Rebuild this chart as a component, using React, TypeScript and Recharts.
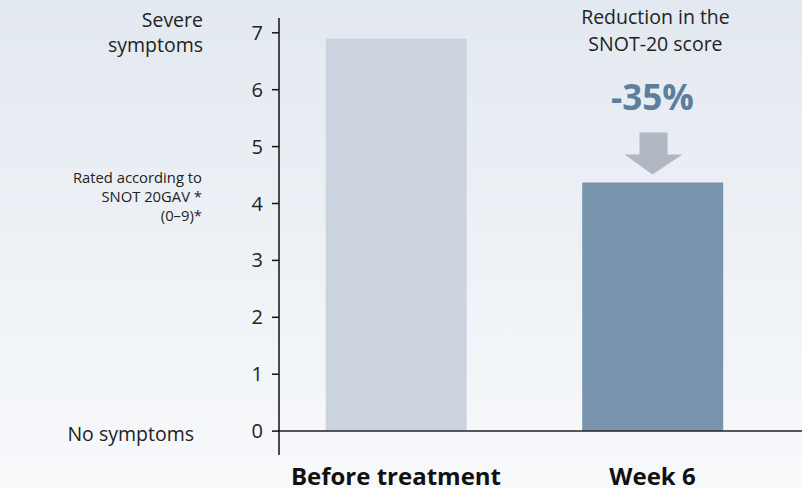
import { BarChart, Bar, XAxis, YAxis, ReferenceLine, ReferenceDot, Cell } from 'recharts';

const categories = ['Before treatment', 'Week 6'];
const scores = [6.9, 4.37];
const yTicks = [0, 1, 2, 3, 4, 5, 6, 7];
const reductionLabel = '-35%';

const BAR_COLORS = ['#CBD3DF', '#7894AD'];
const FONT = '"Open Sans", "Noto Sans", sans-serif';

const data = categories.map((name, i) => ({ pos: i, name, score: scores[i] }));

function CategoryTick(props: any) {
  const { x, y, payload } = props;
  return (
    <text x={x} y={y + 22} textAnchor="middle" fontFamily={FONT} fontSize={24} fontWeight={700} fill="#111">
      {categories[payload.value]}
    </text>
  );
}

// arrow and reduction figure sitting above the week 6 bar
function ReductionMarker(props: any) {
  const { cx, cy } = props;
  const tip = cy - 8;
  return (
    <g>
      <text x={cx + 3} y={tip - 150} textAnchor="middle" fontFamily={FONT} fontSize={19.5} fill="#222">
        Reduction in the
      </text>
      <text x={cx + 3} y={tip - 123} textAnchor="middle" fontFamily={FONT} fontSize={19.5} fill="#222">
        SNOT-20 score
      </text>
      <text x={cx} y={tip - 64} textAnchor="middle" fontFamily={FONT} fontSize={35} fontWeight={700} fill="#5B7F9C">
        {reductionLabel}
      </text>
      <polygon
        points={`${cx - 13},${tip - 42} ${cx + 15},${tip - 42} ${cx + 15},${tip - 20} ${cx + 30},${tip - 20} ${cx},${tip} ${cx - 28},${tip - 20} ${cx - 13},${tip - 20}`}
        fill="#B1B8C3"
      />
    </g>
  );
}

export default function App() {
  return (
    <div
      style={{
        position: 'absolute',
        left: 0,
        top: 0,
        width: 802,
        height: 488,
        background: 'linear-gradient(180deg, #E3E9F0 0%, #EDF1F6 50%, #F8F9FB 100%)',
        fontFamily: FONT,
      }}
    >
      <BarChart width={802} height={488} data={data} margin={{ top: 18, right: 0, left: 0, bottom: 0 }}>
        <XAxis
          type="number"
          dataKey="pos"
          domain={[-0.456, 1.583]}
          ticks={[0, 1]}
          allowDataOverflow
          axisLine={false}
          tickLine={false}
          height={33}
          tick={<CategoryTick />}
        />
        <YAxis
          type="number"
          domain={[-0.42, 7.26]}
          ticks={yTicks}
          allowDataOverflow
          width={279}
          tickSize={7}
          tickMargin={9}
          axisLine={{ stroke: '#111', strokeWidth: 1.5 }}
          tickLine={{ stroke: '#111', strokeWidth: 1.5 }}
          tick={{ fontFamily: FONT, fontSize: 20, fill: '#222' }}
        />
        <Bar dataKey="score" barSize={141} isAnimationActive={false}>
          {data.map((d, i) => (
            <Cell key={d.name} fill={BAR_COLORS[i]} />
          ))}
        </Bar>
        <ReferenceLine y={0} stroke="#222" strokeWidth={1.5} />
        <ReferenceDot x={1} y={scores[1]} shape={<ReductionMarker />} />
      </BarChart>
      <svg width={802} height={488} style={{ position: 'absolute', left: 0, top: 0, pointerEvents: 'none' }}>
        <g fontFamily={FONT} fill="#222" textAnchor="end">
          <text x={203} y={27} fontSize={19.5}>Severe</text>
          <text x={203} y={52} fontSize={19.5}>symptoms</text>
          <text x={202} y={183} fontSize={14.8}>Rated according to</text>
          <text x={202} y={202} fontSize={14.8}>SNOT 20GAV *</text>
          <text x={202} y={221} fontSize={14.8}>(0–9)*</text>
          <text x={194} y={441} fontSize={19.5}>No symptoms</text>
        </g>
      </svg>
    </div>
  );
}
